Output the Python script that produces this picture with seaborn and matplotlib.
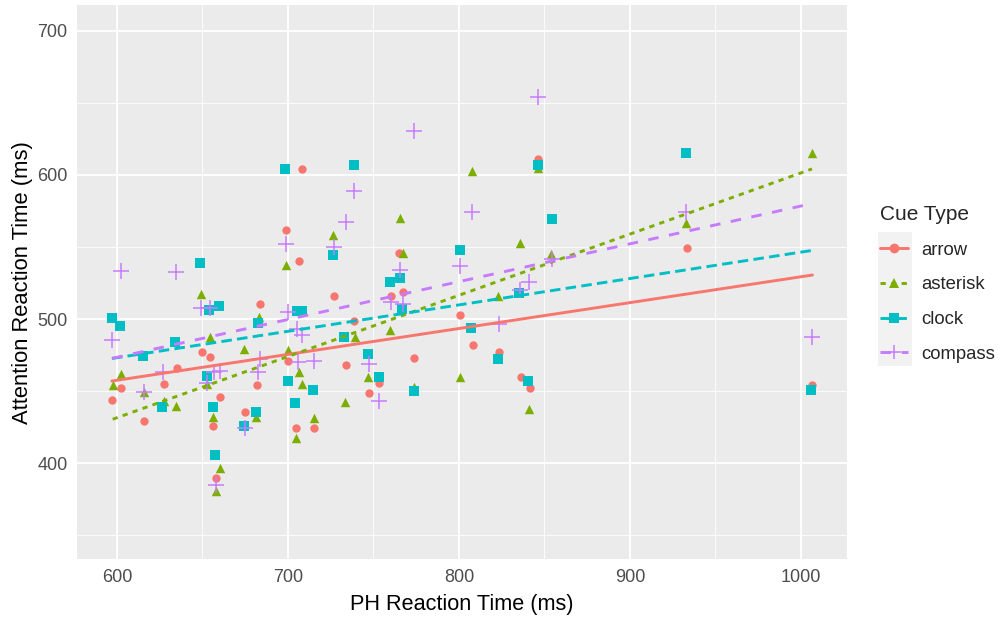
import numpy as np
import pandas as pd
import matplotlib
matplotlib.use("Agg")
import matplotlib.pyplot as plt
from matplotlib.lines import Line2D
from matplotlib.patches import Rectangle
from matplotlib.ticker import MultipleLocator
import seaborn as sns

# Values (PH reaction time vs attention reaction time, ms)
arrow_ph = [597, 602.5, 616, 627.5, 635, 649.6, 654.6, 660, 656.4, 658, 675, 682,
            700, 705, 715, 708, 699, 706.7, 683.7, 727, 738.8, 765.2, 760, 767.2,
            800.5, 846.3, 734, 747.6, 753.5, 774, 808, 823.5, 836.2, 841.3, 933.3, 1006.8]
arrow_attn = [444, 452, 429, 455, 466, 477, 474, 445.6, 426, 390, 435.6, 454,
              471, 424.5, 424.5, 604, 562, 540, 510.6, 516, 499, 546, 516, 519,
              503, 611, 468, 449, 456, 473, 482, 477, 460, 452, 549, 454]

asterisk_ph = [602.3, 597.5, 616, 627.5, 634.5, 654.4, 674.5, 652.8, 656.4, 660, 657.8,
               681.5, 699.9, 706.3, 708.4, 715, 704.7, 649.3, 698.6, 683.3, 726.6, 765.6,
               767.2, 807.7, 835.8, 854, 823, 759.7, 739.3, 747, 733.4, 800.7, 773.5,
               841, 933, 1006.5, 846.3]
asterisk_attn = [461.8, 454.6, 449.5, 443, 439.6, 487.3, 479, 455.3, 432, 396.5, 381,
                 432, 478.5, 463.4, 454.7, 431.5, 417.6, 517.5, 537.8, 501.3, 558.3, 570.4,
                 546, 602.8, 553, 545, 516, 492.4, 487.3, 459.7, 442.5, 459.7, 453.2,
                 437.3, 566.5, 615, 605]

clock_ph = [698, 648.7, 597, 601.8, 659.8, 653.8, 705.5, 708.5, 682.7, 615.4, 634,
            652.8, 656.4, 626.5, 657.1, 681.1, 674.1, 699.8, 704, 714.9, 738.6, 726.1,
            759.7, 765.6, 800.4, 846.4, 854.2, 766.5, 835.3, 807.2, 746.7, 753.5,
            773.5, 823, 840.4, 733, 932.6, 1005.9]
clock_attn = [604.4, 539, 500.5, 495.4, 509, 506.5, 505.5, 505.5, 497.4, 474.2, 484.4,
              460.7, 439, 438.7, 406, 435.5, 426, 457, 442, 451, 607.1, 544.6,
              526, 528.3, 548, 606.8, 569.6, 506.7, 517.8, 493.8, 475.7, 459.7,
              450, 472, 457, 487.3, 615.5, 450.8]

compass_ph = [602.2, 634.6, 698.7, 649, 654.6, 700, 774, 738.9, 733.9, 726.7, 765.7,
              800.7, 807.8, 846.5, 933, 841, 835.8, 854.2, 760.3, 767.2, 823.5, 747.6,
              753.5, 597.3, 627, 616, 656.7, 660.2, 652.9, 683.7, 682.3, 674.9, 658,
              706.1, 715.3, 705.2, 708.2, 1006.5]
compass_attn = [533.3, 532.8, 552, 508, 507.6, 504.6, 630.6, 588.6, 567.4, 550.2, 534,
                537, 574.4, 653.8, 574.5, 525.9, 520.1, 541.8, 511.7, 510.6, 496.5, 468.8,
                443.3, 485.4, 463, 449.7, 463.4, 464.3, 455.5, 472.3, 463.4, 424.6, 384.7,
                470.1, 471.2, 493.1, 489.2, 487.3]

cue_types = ["arrow", "asterisk", "clock", "compass"]
ph_values = [arrow_ph, asterisk_ph, clock_ph, compass_ph]
attn_values = [arrow_attn, asterisk_attn, clock_attn, compass_attn]

df = pd.concat([pd.DataFrame({"ph": p, "attn": a, "cue": c})
                for c, p, a in zip(cue_types, ph_values, attn_values)], ignore_index=True)

colors = ["#F8766D", "#7CAE00", "#00BFC4", "#C77CFF"]
markers = ["o", "^", "s", "+"]
sizes = [36, 46, 42, 130]
dashes = [None, (3.8, 3.8), (7.6, 3.8), (7.6, 7.6)]

sns.set_style("darkgrid", {"axes.facecolor": "#EBEBEB", "grid.color": "white"})
plt.rcParams["font.family"] = ["Liberation Sans", "DejaVu Sans"]
plt.rcParams["lines.scale_dashes"] = False

fig = plt.figure(figsize=(10, 6.19), dpi=100)
ax = fig.add_axes([0.0773, 0.0964, 0.7697, 0.8956])

for cue, col, mk, sz in zip(cue_types, colors, markers, sizes):
    sub = df[df["cue"] == cue]
    if mk == "+":
        sns.scatterplot(data=sub, x="ph", y="attn", color=col, marker=mk, s=sz,
                        linewidth=1.1, ax=ax, zorder=3)
    else:
        sns.scatterplot(data=sub, x="ph", y="attn", color=col, marker=mk, s=sz,
                        linewidth=0, ax=ax, zorder=3)

for cue, col, ds in zip(cue_types, colors, dashes):
    sub = df[df["cue"] == cue]
    kws = {"lw": 2.1, "zorder": 4}
    if ds is not None:
        kws["dashes"] = ds
    sns.regplot(data=sub, x="ph", y="attn", scatter=False, ci=None, color=col,
                line_kws=kws, ax=ax)

ax.set_xlim(576.8, 1027)
ax.set_ylim(333.3, 718)
ax.xaxis.set_major_locator(MultipleLocator(100))
ax.xaxis.set_minor_locator(MultipleLocator(50))
ax.yaxis.set_major_locator(MultipleLocator(100))
ax.yaxis.set_minor_locator(MultipleLocator(50))
ax.set_yticks([400, 500, 600, 700])
ax.grid(which="major", color="white", lw=1.3)
ax.grid(which="minor", color="white", lw=0.6)
ax.tick_params(which="major", length=3.6, width=1, color="#333333",
               labelsize=13, labelcolor="#4D4D4D", pad=3.4)
ax.tick_params(which="minor", length=0)
for sp in ax.spines.values():
    sp.set_visible(False)

ax.set_xlabel("PH Reaction Time (ms)", fontsize=15.6, color="black", labelpad=6)
ax.set_ylabel("Attention Reaction Time (ms)", fontsize=15.8, color="black", labelpad=3)

# legend
handles = []
for col, mk, ds in zip(colors, markers, dashes):
    h = Line2D([], [], color=col, marker=mk, lw=2.1,
               markersize=7 if mk != "+" else 10, markeredgewidth=0 if mk != "+" else 1.1)
    if ds is not None:
        h.set_dashes(ds)
    handles.append(h)

fig.add_artist(Rectangle((0.878, 1 - 366 / 619), 0.034, 134 / 619,
                         transform=fig.transFigure, facecolor="#F2F2F2",
                         edgecolor="none", zorder=0))
leg = fig.legend(handles, cue_types, title="Cue Type", loc="upper left",
                 bbox_to_anchor=(0.873, 1 - 198 / 619), frameon=False,
                 fontsize=13.3, title_fontsize=15, handlelength=1.5,
                 labelspacing=0.95, handletextpad=0.7, borderaxespad=0)
leg._legend_box.align = "left"

fig.savefig("out.png", dpi=100)
